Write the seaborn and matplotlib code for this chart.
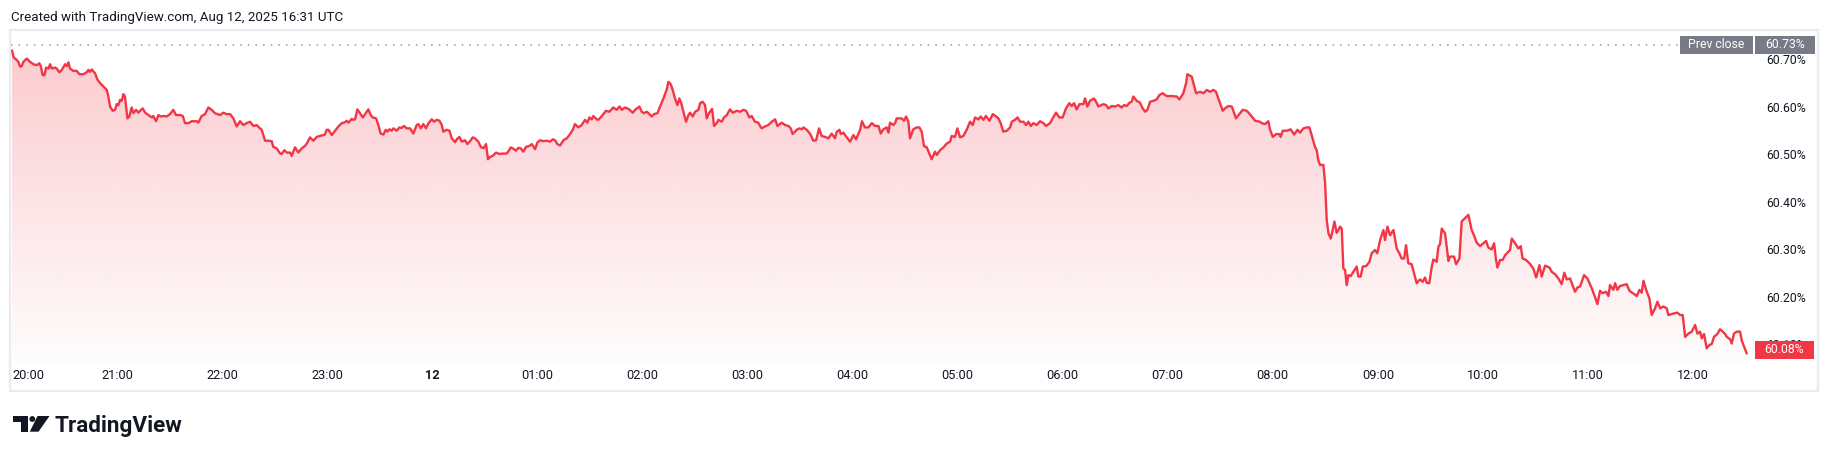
import numpy as np
import pandas as pd
import seaborn as sns
import matplotlib.pyplot as plt
import matplotlib.transforms as mtransforms
from matplotlib.patches import Rectangle, Polygon, Circle

# minutes after 20:00 UTC (Aug 11) and the value in percent
minutes = [
    0.0, 0.8, 2.7, 3.6, 4.6, 5.5, 6.5, 8.4, 10.3, 12.2,
    14.1, 15.6, 16.4, 17.5, 18.5, 19.4, 20.8, 21.7, 22.7, 24.6,
    25.5, 27.0, 28.4, 30.3, 31.2, 32.2, 33.1, 35.0, 36.9, 38.5,
    40.7, 42.6, 43.6, 44.5, 45.5, 47.4, 48.7, 50.3, 52.2, 54.1,
    55.0, 56.0, 57.5, 58.8, 59.8, 60.7, 61.7, 62.6, 63.6, 64.5,
    65.1, 65.9, 67.0, 68.3, 69.3, 70.8, 72.2, 73.1, 74.6, 76.0,
    77.9, 79.8, 80.7, 82.2, 83.6, 84.9, 86.4, 88.3, 90.2, 92.1,
    93.7, 96.0, 97.5, 98.8, 100.7, 102.6, 105.5, 106.4, 108.3, 110.2,
    112.1, 114.0, 115.9, 118.8, 120.7, 122.6, 124.5, 126.4, 128.3, 130.2,
    132.1, 134.0, 135.9, 137.8, 139.7, 141.6,
    142.6, 143.5, 144.5, 146.4, 148.3, 149.2, 151.1, 153.1, 154.0, 155.5,
    156.9, 158.8, 159.7, 161.6, 163.5, 165.4, 167.3, 168.3, 170.2, 172.1,
    174.0, 176.8, 178.7, 179.7, 180.7, 182.6, 184.5, 186.4, 188.3, 190.2,
    191.1, 192.1, 194.0, 194.9, 195.9, 197.2, 198.7, 200.3, 201.6, 203.5,
    204.8, 206.0, 207.9, 209.2, 210.5, 212.1, 213.4, 214.3, 215.5, 216.8,
    217.8, 219.7, 221.2, 222.5, 223.9, 225.4, 227.3, 229.2, 231.1, 232.1,
    233.4, 234.9, 236.4, 237.8, 239.7, 241.0, 242.5, 244.1, 245.4, 246.3,
    248.2, 249.8, 251.1, 253.0, 254.0, 255.5, 256.8, 258.7, 260.0, 261.6,
    263.1, 264.4, 266.3, 267.7, 269.2, 270.7, 271.8, 273.0, 274.5, 276.4,
    278.3, 280.2, 282.5,
    283.5, 284.8, 286.3, 287.8, 289.2, 290.5, 292.0, 293.5, 295.5, 296.8,
    298.7, 300.0, 301.5, 303.5, 305.4, 307.3, 308.8, 310.1, 311.4, 313.0,
    314.9, 316.8, 318.7, 320.2, 321.5, 323.4, 325.3, 327.2, 328.6, 329.7,
    331.1, 332.0, 333.9, 334.9, 336.8, 339.2, 341.1, 343.4, 345.3, 346.9,
    348.2, 350.1, 352.0, 354.5, 355.8, 358.3, 359.6, 360.9, 362.5, 364.0,
    365.3, 366.6, 368.6, 370.1, 372.0, 373.9, 374.8, 376.2, 377.3, 378.6,
    380.0, 381.1, 382.1, 383.4, 384.9, 386.3, 387.2, 388.7, 390.1, 392.0,
    392.9, 394.4, 395.8, 396.7, 398.2, 399.8, 400.9, 402.4, 403.4, 405.3,
    406.6, 408.2, 410.0, 411.6, 413.9, 415.8, 417.7, 419.2, 421.1, 422.4,
    424.3, 426.2, 427.2,
    428.1, 430.0, 431.9, 433.9, 435.8, 437.1, 439.6, 441.5, 443.4, 444.7,
    445.8, 448.1, 449.6, 451.0, 452.0, 453.8, 455.7, 457.6, 459.2, 460.9,
    462.4, 464.3, 466.2, 468.1, 470.0, 471.0, 472.5, 473.3, 474.8, 476.7,
    478.6, 480.5, 482.0, 484.3, 485.4, 487.1, 489.1, 491.0, 492.9, 494.8,
    496.1, 497.6, 499.5, 500.5, 501.4, 503.3, 504.3, 505.2, 508.1, 509.4,
    510.6, 511.9, 512.8, 514.7, 516.6, 518.2, 519.5, 520.8, 522.4, 525.2,
    527.1, 528.1, 530.0, 531.9, 533.8, 535.7, 536.6, 538.5, 539.9, 541.4,
    543.3, 545.2, 547.1, 548.6, 550.0, 551.9, 553.2, 554.7, 556.2, 558.2,
    560.1, 562.0, 563.3, 564.6, 566.1, 568.1, 570.0,
    570.9, 572.8, 574.2, 575.7, 577.6, 579.1, 580.4, 581.8, 583.3, 585.2,
    587.1, 589.0, 590.5, 592.8, 594.3, 596.2, 598.1, 600.0, 601.9, 603.8,
    605.2, 606.5, 608.0, 609.6, 611.8, 612.8, 614.1, 615.6, 617.9, 619.1,
    620.4, 623.3, 624.8, 626.1, 628.0, 629.9, 631.8, 633.7, 635.1, 636.6,
    638.1, 639.4, 640.4, 642.3, 644.2, 645.7, 647.1, 648.4, 649.9, 651.8,
    653.7, 655.2, 657.1, 659.4, 662.3, 665.2, 666.7, 668.9, 670.5, 671.2,
    673.7, 674.7, 676.2, 678.5, 680.4, 682.3, 684.2, 686.1, 687.6, 688.9,
    691.4, 692.7, 694.6, 696.6, 699.0, 700.9, 702.8, 705.1, 707.4, 709.9,
    712.7,
    713.7, 715.6, 717.5, 718.4, 720.0, 721.9, 723.8, 724.5, 725.7, 728.0,
    730.2, 732.2, 734.1, 735.6, 737.5, 739.4, 740.9, 742.2, 744.1, 745.1,
    746.0, 747.0, 748.9, 749.9, 750.8, 751.8, 753.1, 754.2, 755.2, 756.5,
    757.5, 758.4, 759.4, 760.3, 761.3, 762.2, 763.2, 764.5, 766.0, 767.9,
    768.9, 770.2, 771.4, 773.3, 775.2, 776.5, 778.4, 779.7, 781.3, 783.2,
    784.1, 785.5, 787.0, 788.9, 790.8, 792.3, 793.6, 795.0, 796.1, 797.4,
    799.3, 800.7, 802.2, 804.1, 805.6, 807.0, 807.9, 809.4, 810.8, 811.7,
    813.6, 814.6, 815.5, 816.5, 818.4, 820.3, 821.2, 823.5, 824.7, 826.6,
    827.9, 829.8, 831.7, 833.6, 834.9, 836.5, 838.4, 840.3, 841.8, 843.1,
    845.0, 846.4, 847.5, 848.3, 849.8, 851.3, 852.7, 854.0, 855.5,
    856.5, 858.4, 860.3, 861.6, 862.7, 864.6, 866.6, 868.8, 870.4, 872.3,
    873.6, 875.5, 878.0, 879.3, 881.2, 883.1, 885.0, 886.5, 887.9, 889.8,
    890.7, 892.6, 894.0, 895.5, 897.8, 899.7, 902.2, 904.1, 905.4, 906.9,
    908.4, 910.3, 911.7, 912.6, 914.5, 915.5, 916.8, 918.3, 920.2, 922.1,
    923.7, 925.6, 927.9, 929.4, 930.7, 931.7, 933.6, 935.1, 936.4, 938.3,
    939.7, 941.2, 943.1, 945.0, 945.9, 947.8, 949.7, 951.1, 952.6, 954.1,
    955.5, 957.4, 959.3, 961.2, 962.5, 964.0, 965.0, 966.3, 967.8, 969.4,
    970.7, 972.0, 973.9, 975.4, 977.0, 978.3, 979.3, 981.2, 982.1, 983.4,
    985.0, 986.9, 987.8, 989.2, 990.7,
]

values = [
    60.718, 60.704, 60.698, 60.694, 60.684, 60.685, 60.694, 60.701, 60.694, 60.689,
    60.687, 60.691, 60.685, 60.666, 60.666, 60.682, 60.680, 60.689, 60.680, 60.682,
    60.680, 60.672, 60.677, 60.689, 60.685, 60.693, 60.680, 60.675, 60.675, 60.668,
    60.668, 60.672, 60.677, 60.673, 60.678, 60.670, 60.657, 60.649, 60.642, 60.635,
    60.621, 60.600, 60.591, 60.593, 60.605, 60.603, 60.614, 60.612, 60.626, 60.621,
    60.600, 60.575, 60.579, 60.598, 60.586, 60.593, 60.587, 60.591, 60.596, 60.587,
    60.582, 60.577, 60.580, 60.569, 60.582, 60.579, 60.580, 60.579, 60.584, 60.593,
    60.582, 60.582, 60.580, 60.565, 60.565, 60.569, 60.569, 60.566, 60.580, 60.584,
    60.598, 60.593, 60.586, 60.582, 60.587, 60.584, 60.584, 60.575, 60.558, 60.569,
    60.561, 60.565, 60.568, 60.559, 60.561, 60.554,
    60.551, 60.540, 60.528, 60.528, 60.527, 60.515, 60.512, 60.501, 60.500, 60.508,
    60.503, 60.503, 60.496, 60.514, 60.503, 60.512, 60.517, 60.522, 60.535, 60.528,
    60.536, 60.539, 60.541, 60.551, 60.551, 60.540, 60.549, 60.558, 60.565, 60.567,
    60.570, 60.566, 60.574, 60.572, 60.573, 60.594, 60.586, 60.577, 60.584, 60.594,
    60.582, 60.577, 60.575, 60.561, 60.543, 60.541, 60.551, 60.547, 60.552, 60.549,
    60.554, 60.549, 60.556, 60.555, 60.559, 60.554, 60.554, 60.543, 60.561, 60.563,
    60.554, 60.563, 60.554, 60.565, 60.573, 60.568, 60.572, 60.570, 60.561, 60.547,
    60.551, 60.549, 60.533, 60.525, 60.531, 60.536, 60.526, 60.529, 60.521, 60.527,
    60.535, 60.533, 60.526, 60.515, 60.512, 60.521, 60.489, 60.494, 60.496, 60.503,
    60.500, 60.501, 60.501,
    60.506, 60.514, 60.511, 60.507, 60.513, 60.512, 60.505, 60.515, 60.517, 60.521,
    60.510, 60.524, 60.529, 60.527, 60.528, 60.526, 60.531, 60.529, 60.521, 60.518,
    60.529, 60.533, 60.542, 60.551, 60.563, 60.556, 60.561, 60.572, 60.566, 60.577,
    60.573, 60.580, 60.573, 60.572, 60.580, 60.591, 60.589, 60.598, 60.593, 60.600,
    60.593, 60.598, 60.595, 60.587, 60.593, 60.600, 60.589, 60.586, 60.589, 60.584,
    60.579, 60.584, 60.586, 60.600, 60.617, 60.636, 60.652, 60.647, 60.635, 60.617,
    60.603, 60.617, 60.608, 60.589, 60.568, 60.582, 60.587, 60.579, 60.589, 60.593,
    60.607, 60.610, 60.603, 60.575, 60.587, 60.595, 60.559, 60.565, 60.572, 60.568,
    60.577, 60.582, 60.594, 60.587, 60.591, 60.589, 60.593, 60.591, 60.577, 60.580,
    60.568, 60.566, 60.559,
    60.554, 60.558, 60.561, 60.568, 60.573, 60.559, 60.566, 60.561, 60.559, 60.554,
    60.542, 60.551, 60.554, 60.552, 60.556, 60.551, 60.543, 60.528, 60.529, 60.554,
    60.538, 60.536, 60.533, 60.543, 60.533, 60.547, 60.551, 60.542, 60.545, 60.535,
    60.526, 60.540, 60.531, 60.551, 60.569, 60.556, 60.556, 60.565, 60.559, 60.559,
    60.543, 60.552, 60.556, 60.545, 60.566, 60.561, 60.565, 60.575, 60.575, 60.570,
    60.579, 60.568, 60.533, 60.552, 60.556, 60.556, 60.547, 60.517, 60.514, 60.489,
    60.505, 60.498, 60.508, 60.514, 60.522, 60.526, 60.538, 60.536, 60.554, 60.535,
    60.538, 60.551, 60.568, 60.561, 60.577, 60.573, 60.579, 60.572, 60.580, 60.570,
    60.584, 60.579, 60.575, 60.565, 60.547, 60.549, 60.556,
    60.568, 60.572, 60.577, 60.568, 60.568, 60.561, 60.568, 60.559, 60.565, 60.561,
    60.569, 60.565, 60.559, 60.565, 60.575, 60.587, 60.577, 60.577, 60.596, 60.607,
    60.601, 60.607, 60.594, 60.605, 60.605, 60.617, 60.600, 60.612, 60.617, 60.610,
    60.600, 60.605, 60.603, 60.596, 60.601, 60.600, 60.603, 60.598, 60.603, 60.601,
    60.608, 60.610, 60.621, 60.612, 60.608, 60.596, 60.589, 60.593, 60.610, 60.612,
    60.615, 60.624, 60.628, 60.622, 60.622, 60.621, 60.615, 60.628, 60.649, 60.668,
    60.663, 60.649, 60.628, 60.631, 60.628, 60.635, 60.631, 60.635, 60.631, 60.617,
    60.591, 60.596, 60.601, 60.600, 60.575, 60.584, 60.593, 60.591, 60.582, 60.570,
    60.568,
    60.565, 60.563, 60.569, 60.552, 60.536, 60.542, 60.542, 60.536, 60.549, 60.549,
    60.552, 60.541, 60.551, 60.545, 60.554, 60.556, 60.556, 60.540, 60.515, 60.508,
    60.487, 60.477, 60.477, 60.438, 60.361, 60.333, 60.322, 60.340, 60.358, 60.334,
    60.340, 60.347, 60.343, 60.259, 60.256, 60.224, 60.245, 60.243, 60.252, 60.263,
    60.242, 60.242, 60.263, 60.264, 60.273, 60.291, 60.298, 60.291, 60.319, 60.340,
    60.319, 60.347, 60.329, 60.340, 60.301, 60.291, 60.280, 60.280, 60.308, 60.270,
    60.268, 60.249, 60.228, 60.236, 60.231, 60.240, 60.229, 60.228, 60.263, 60.278,
    60.273, 60.305, 60.310, 60.343, 60.333, 60.275, 60.284, 60.284, 60.268, 60.280,
    60.358, 60.365, 60.372, 60.340, 60.329, 60.313, 60.306, 60.312, 60.317, 60.303,
    60.299, 60.312, 60.277, 60.261, 60.277, 60.277, 60.287, 60.292, 60.298,
    60.322, 60.312, 60.301, 60.306, 60.280, 60.277, 60.270, 60.259, 60.240, 60.266,
    60.242, 60.265, 60.261, 60.252, 60.247, 60.238, 60.226, 60.250, 60.236, 60.238,
    60.229, 60.210, 60.219, 60.221, 60.245, 60.238, 60.217, 60.198, 60.184, 60.212,
    60.207, 60.210, 60.201, 60.224, 60.214, 60.228, 60.214, 60.222, 60.224, 60.226,
    60.212, 60.207, 60.201, 60.214, 60.208, 60.233, 60.210, 60.196, 60.161, 60.175,
    60.189, 60.175, 60.179, 60.175, 60.161, 60.163, 60.165, 60.166, 60.161, 60.161,
    60.115, 60.122, 60.126, 60.140, 60.122, 60.126, 60.112, 60.121, 60.091, 60.098,
    60.100, 60.115, 60.121, 60.131, 60.126, 60.121, 60.115, 60.110, 60.101, 60.122,
    60.126, 60.126, 60.108, 60.094, 60.080,
]

prev_close = 60.73
hour_ticks = [0, 60, 120, 180, 240, 300, 360, 420, 480, 540, 600, 660, 720, 780, 840, 900, 960]
hour_labels = ["20:00", "21:00", "22:00", "23:00", "12", "01:00", "02:00", "03:00", "04:00",
               "05:00", "06:00", "07:00", "08:00", "09:00", "10:00", "11:00", "12:00"]
price_ticks = [60.10, 60.20, 60.30, 60.40, 60.50, 60.60, 60.70]

RED = "#F23645"
TXT = "#131722"

df = pd.DataFrame({"minute": minutes, "value": values})

sns.set_theme(style="white")
plt.rcParams["font.family"] = ["Roboto", "DejaVu Sans"]

W, H = 1831, 459
fig = plt.figure(figsize=(W / 100, H / 100), dpi=100)
fig.patch.set_facecolor("white")
ax = fig.add_axes([11 / W, 1 - 363 / H, (1755 - 11) / W, (363 - 31) / H])
ax.set_facecolor("white")

x0, x1 = -0.6, 995.4
y0, y1 = 60.060, 60.759

# gradient area under the line
area = ax.fill_between(df["minute"], df["value"], y0, color="none", lw=0)
grad = np.zeros((256, 1, 4))
grad[..., 0] = 242 / 255
grad[..., 1] = 54 / 255
grad[..., 2] = 69 / 255
grad[:, 0, 3] = np.linspace(0.26, 0.01, 256)
im = ax.imshow(grad, extent=[x0, x1, y0, df["value"].max()], aspect="auto",
               origin="upper", zorder=1, interpolation="bilinear")
im.set_clip_path(area.get_paths()[0], transform=ax.transData)

sns.lineplot(data=df, x="minute", y="value", ax=ax, color=RED, linewidth=1.7, zorder=3)

ax.axhline(prev_close, xmin=0, xmax=0.956, color="#9598a1", lw=1.1, ls=(0, (1, 4)), zorder=2)

ax.set_xlim(x0, x1)
ax.set_ylim(y0, y1)
for s in ax.spines.values():
    s.set_visible(False)
ax.set_xlabel("")
ax.set_ylabel("")
ax.grid(False)

ax.set_xticks(hour_ticks)
ax.set_xticklabels(hour_labels)
ax.tick_params(axis="x", length=0, pad=4.5, labelsize=9.2, labelcolor=TXT)
xt = ax.get_xticklabels()
xt[0].set_ha("left")
xt[4].set_fontweight("bold")

ax.yaxis.tick_right()
ax.set_yticks(price_ticks)
ax.set_yticklabels([f"{p:.2f}%" for p in price_ticks])
ax.tick_params(axis="y", length=0, pad=8.2, labelsize=8.8, labelcolor=TXT)

# price scale labels (x in figure fraction, y in data); 475 px per 1.0 on the value scale
trans = mtransforms.blended_transform_factory(fig.transFigure, ax.transData)
h = 18 / 475
fig.add_artist(Rectangle((1680 / W, prev_close - h / 2), 73 / W, h, transform=trans,
                         color="#787b86", lw=0, zorder=5))
fig.add_artist(Rectangle((1755 / W, prev_close - h / 2), 60 / W, h, transform=trans,
                         color="#787b86", lw=0, zorder=5))
fig.text(1716.5 / W, prev_close, "Prev close", transform=trans, color="white",
         fontsize=8.8, ha="center", va="center", zorder=6)
fig.text(1785 / W, prev_close, f"{prev_close:.2f}%", transform=trans, color="white",
         fontsize=8.8, ha="center", va="center", zorder=6)

last = values[-1]
off = 4 / 475
fig.add_artist(Rectangle((1755 / W, last + off - h / 2), 59 / W, h, transform=trans,
                         color=RED, lw=0, zorder=5))
fig.text(1784.5 / W, last + off, f"{last:.2f}%", transform=trans, color="white",
         fontsize=8.8, ha="center", va="center", zorder=6)

# outer frame
pix = mtransforms.Affine2D().scale(1 / W, -1 / H).translate(0, 1) + fig.transFigure
fig.add_artist(Rectangle((10.5, 30), 1807.5, 361, transform=pix, fill=False,
                         ec="#e8ebef", lw=1.6, zorder=4))

fig.text(11 / W, 1 - 17 / H, "Created with TradingView.com, Aug 12, 2025 16:31 UTC",
         fontsize=9.6, color=TXT, va="center", ha="left")

# TradingView logo
fig.add_artist(Polygon([(13.3, 416), (28.3, 416), (28.3, 431.7), (20.7, 431.7),
                        (20.7, 421.5), (13.3, 421.5)], closed=True, transform=pix,
                       color="#131722", lw=0))
fig.add_artist(Circle((32.3, 419.0), 2.9, transform=pix, color="#131722", lw=0))
fig.add_artist(Polygon([(37.5, 416), (49.5, 416), (38.5, 431.7), (29.8, 431.7)],
                       closed=True, transform=pix, color="#131722", lw=0))
fig.text(55 / W, 1 - 431.7 / H, "TradingView", fontsize=16.2, fontweight="bold",
         color="#131722", va="baseline", ha="left")

fig.savefig("out.png", dpi=100)
